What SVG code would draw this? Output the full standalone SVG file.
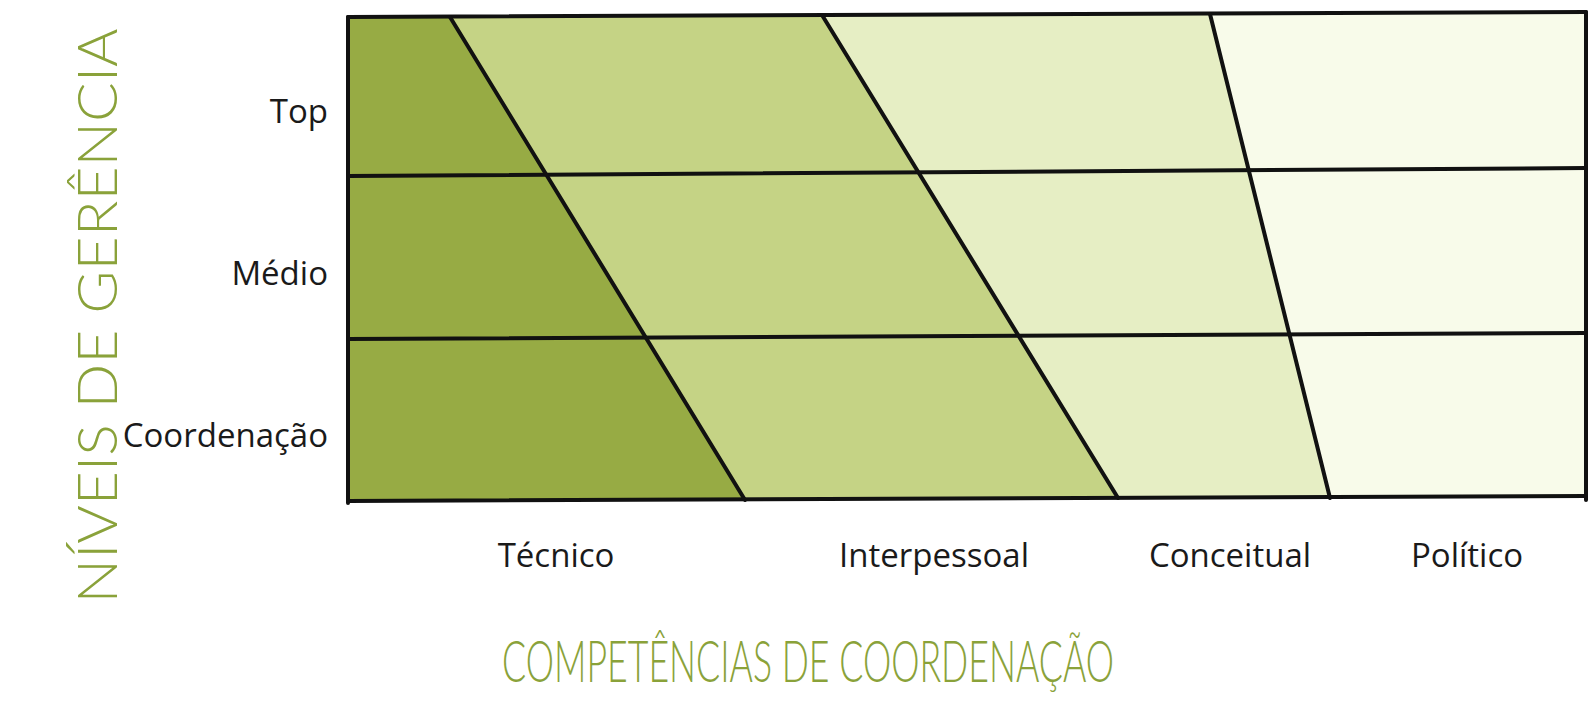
<svg xmlns="http://www.w3.org/2000/svg" width="1591" height="707" viewBox="0 0 1591 707">
<style>
.lbl{font-family:"Open Sans","Noto Sans",sans-serif;font-size:33px;fill:#1a1a1a}
.hand{font-family:"Lato","Open Sans",sans-serif;font-weight:300;fill:#8aa23a}
.ln{stroke:#111;stroke-width:4;fill:none;stroke-linecap:round}
</style>
<rect width="1591" height="707" fill="#ffffff"/>
<g id="zone-tecnico"><polygon points="348,17 450,17 745,500 348,501" fill="#97ab44"/></g>
<g id="zone-interpessoal"><polygon points="450,17 822,15 1118,498 745,500" fill="#c5d385"/></g>
<g id="zone-conceitual"><polygon points="822,15 1210,14 1330,498 1118,498" fill="#e6eec4"/></g>
<g id="zone-politico"><polygon points="1210,14 1586,12 1586,496 1330,498" fill="#f8fbea"/></g>
<g id="connectors">
<line class="ln" x1="348" y1="17" x2="1586" y2="12" stroke-width="5"/>
<line class="ln" x1="348" y1="176" x2="1586" y2="168"/>
<line class="ln" x1="348" y1="339" x2="1586" y2="333"/>
<line class="ln" x1="348" y1="501" x2="1586" y2="496" stroke-width="5"/>
<line class="ln" x1="348" y1="17" x2="348" y2="503" stroke-width="3"/>
<line class="ln" x1="1586" y1="12" x2="1586" y2="500" stroke-width="3"/>
<line class="ln" x1="450" y1="17" x2="745" y2="500"/>
<line class="ln" x1="822" y1="15" x2="1118" y2="498"/>
<line class="ln" x1="1210" y1="14" x2="1330" y2="498"/>
</g>
<g id="row-top"><text class="lbl" x="328" y="123" text-anchor="end">Top</text></g>
<g id="row-medio"><text class="lbl" x="328" y="285" text-anchor="end">Médio</text></g>
<g id="row-coordenacao"><text class="lbl" x="328" y="447" text-anchor="end">Coordenação</text></g>
<g id="col-tecnico"><text class="lbl" x="556" y="567" text-anchor="middle">Técnico</text></g>
<g id="col-interpessoal"><text class="lbl" x="934" y="567" text-anchor="middle">Interpessoal</text></g>
<g id="col-conceitual"><text class="lbl" x="1230" y="567" text-anchor="middle">Conceitual</text></g>
<g id="col-politico"><text class="lbl" x="1467" y="567" text-anchor="middle">Político</text></g>
<g id="axis-y"><text class="hand" font-size="56" transform="translate(117,316) rotate(-90)" text-anchor="middle" textLength="575" lengthAdjust="spacingAndGlyphs">NÍVEIS DE GERÊNCIA</text></g>
<g id="axis-x"><text class="hand" font-size="58" x="808" y="682" text-anchor="middle" textLength="612" lengthAdjust="spacingAndGlyphs">COMPETÊNCIAS DE COORDENAÇÃO</text></g>
</svg>
